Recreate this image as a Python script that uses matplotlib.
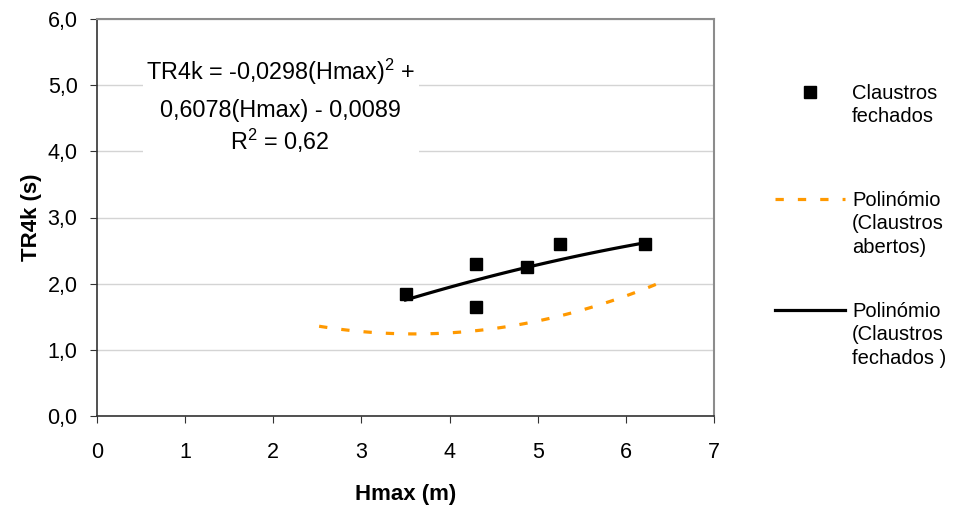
import matplotlib
matplotlib.use('Agg')
import matplotlib.pyplot as plt
import numpy as np
from matplotlib.patches import Rectangle
from matplotlib.lines import Line2D

plt.rcParams['font.family'] = ['Liberation Sans', 'DejaVu Sans']
plt.rcParams['mathtext.fontset'] = 'custom'
plt.rcParams['mathtext.rm'] = 'Liberation Sans'

# Claustros fechados (pontos medidos)
hmax = [3.5, 4.3, 4.3, 4.88, 5.25, 6.22]
tr4k = [1.85, 2.3, 1.65, 2.25, 2.6, 2.6]

# linhas de tendência (polinómio de 2ª ordem)
coef_fechados = [-0.0298, 0.6078, -0.0089]
range_fechados = [3.5, 6.22]
coef_abertos = [0.0996, -0.717, 2.531]   # estimado do gráfico
range_abertos = [2.52, 6.38]

xticks = [0, 1, 2, 3, 4, 5, 6, 7]
yticks = [0, 1, 2, 3, 4, 5, 6]
ylabels = ['0,0', '1,0', '2,0', '3,0', '4,0', '5,0', '6,0']

eq_lines = [r'TR4k = -0,0298(Hmax)$^{2}$ +',
            '0,6078(Hmax) - 0,0089',
            r'R$^{2}$ = 0,62']

orange = '#FF9900'
fs_tick = 15.5
fs_eq = 16.8
fs_leg = 14.5
fs_lab = 16

fig = plt.figure(figsize=(9.55, 5.07), dpi=100)
ax = fig.add_axes([97 / 955, 1 - 416 / 507, 617 / 955, 397 / 507])

ax.set_xlim(0, 7)
ax.set_ylim(0, 6)
ax.set_axisbelow(True)
ax.grid(axis='y', color='#d4d4d4', linewidth=1.0)

for s in ['top', 'right']:
    ax.spines[s].set_color('#8c8c8c')
    ax.spines[s].set_linewidth(1.5)
for s in ['left', 'bottom']:
    ax.spines[s].set_color('#333333')
    ax.spines[s].set_linewidth(1.2)

ax.set_xticks(xticks)
ax.set_yticks(yticks)
ax.set_yticklabels(ylabels)
ax.tick_params(axis='x', length=5, pad=14, labelsize=fs_tick, color='#333333')
ax.tick_params(axis='y', length=5, pad=9, labelsize=fs_tick, color='#333333')

# caixa branca da equação
ax.add_patch(Rectangle((0.52, 3.88), 3.13, 1.62, facecolor='white',
                       edgecolor='none', zorder=1))

xa = np.linspace(range_abertos[0], range_abertos[1], 100)
ax.plot(xa, np.polyval(coef_abertos, xa), color=orange, linewidth=2.3,
        dashes=(2.6, 4.4), zorder=2)

xf = np.linspace(range_fechados[0], range_fechados[1], 100)
ax.plot(xf, np.polyval(coef_fechados, xf), color='black', linewidth=2.3,
        zorder=3)

ax.plot(hmax, tr4k, linestyle='none', marker='s', markersize=8,
        color='black', zorder=4)

for txt, yv in zip(eq_lines, [5.2, 4.62, 4.16]):
    ax.text(2.08, yv, txt, ha='center', va='center', fontsize=fs_eq, zorder=5)

ax.set_xlabel('Hmax (m)', fontsize=fs_lab, fontweight='bold', labelpad=15)
ax.set_ylabel('TR4k (s)', fontsize=fs_lab, fontweight='bold', labelpad=4)

# legenda (à maneira do Excel, marcador alinhado com a 1ª linha)
lx0, lx1, tx = 775 / 955, 845 / 955, 852 / 955
fig.add_artist(Line2D([810 / 955], [1 - 92 / 507], marker='s', markersize=8,
                      color='black', linestyle='none'))
fig.text(tx, 1 - 84 / 507, 'Claustros\nfechados', fontsize=fs_leg, va='top',
         ha='left', linespacing=1.3)
fig.add_artist(Line2D([lx0, lx1], [1 - 199 / 507] * 2, color=orange,
                      linewidth=2.3, dashes=(2.6, 4.4)))
fig.text(tx, 1 - 191 / 507, 'Polinómio\n(Claustros\nabertos)', fontsize=fs_leg,
         va='top', ha='left', linespacing=1.3)
fig.add_artist(Line2D([lx0, lx1], [1 - 310 / 507] * 2, color='black',
                      linewidth=2.3))
fig.text(tx, 1 - 302 / 507, 'Polinómio\n(Claustros\nfechados )', fontsize=fs_leg,
         va='top', ha='left', linespacing=1.3)

fig.savefig('out.png', dpi=100)
